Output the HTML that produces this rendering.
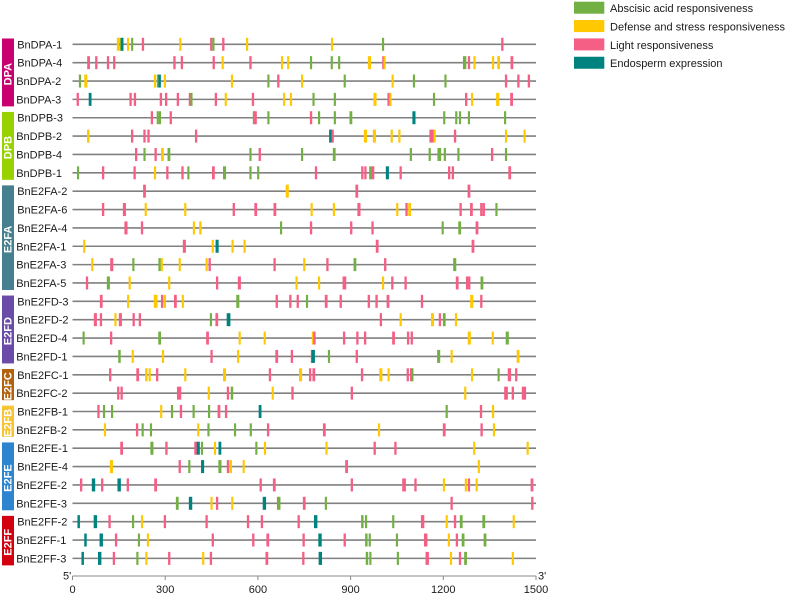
<!DOCTYPE html>
<html lang="en">
<head>
<meta charset="utf-8">
<title>Cis-element motifs along BnE2F promoters</title>
<style>
html,body{margin:0;padding:0;background:#fff;width:787px;height:595px;overflow:hidden}
svg{display:block}
text{font-family:"Liberation Sans",Arial,sans-serif;fill:#1a1a1a}
</style>
</head>
<body>
<svg id="chart" xmlns="http://www.w3.org/2000/svg" width="787" height="595" viewBox="0 0 787 595"></svg>
<script>
const genes = ["BnDPA-1","BnDPA-4","BnDPA-2","BnDPA-3","BnDPB-3","BnDPB-2","BnDPB-4","BnDPB-1","BnE2FA-2","BnE2FA-6","BnE2FA-4","BnE2FA-1","BnE2FA-3","BnE2FA-5","BnE2FD-3","BnE2FD-2","BnE2FD-4","BnE2FD-1","BnE2FC-1","BnE2FC-2","BnE2FB-1","BnE2FB-2","BnE2FE-1","BnE2FE-4","BnE2FE-2","BnE2FE-3","BnE2FF-2","BnE2FF-1","BnE2FF-3"];
const groupNames = ["DPA","DPB","E2FA","E2FD","E2FC","E2FB","E2FE","E2FF"];
const groupSizes = [4,4,6,4,2,2,4,3];
const legendLabels = ["Abscisic acid responsiveness","Defense and stress responsiveness","Light responsiveness","Endosperm expression"];
const axisTicks = [0,300,600,900,1200,1500];
const axisEnds = ["5'","3'"];
const sequenceLength = 1500;

/* Each motif: [category, centre position in bp, optional length in bp].
   Categories: A abscisic acid, D defense/stress, L light, E endosperm. */
const motifsDPA1 = [["D",147],["A",156,8],["E",161,8],["D",180],["A",193],["L",228],["D",349],["L",449],["A",456],["L",488],["D",565],["D",840],["A",1005],["L",1391]];
const motifsDPA4 = [["L",52,9],["L",77],["L",115],["L",135],["L",330],["L",354],["L",457],["D",486],["L",576],["D",678],["D",698],["A",772],["A",839],["A",863],["D",961,10],["L",1006],["D",1010],["A",1269,11],["L",1283],["D",1301],["D",1361],["D",1379,9],["L",1422,9]];
const motifsDPA2 = [["A",24],["D",43,10],["D",267],["A",277,8],["E",282,8],["D",299],["D",516],["A",634],["L",666],["D",743],["A",881],["D",1036],["A",1105],["A",1207],["L",1403],["L",1443],["L",1477]];
const motifsDPA3 = [["L",17],["E",57],["L",188],["L",202],["L",286],["L",303],["L",341],["L",380],["A",385],["L",464],["D",496],["L",584],["D",685],["D",707],["A",780],["A",849],["D",979,10],["L",1023],["D",1029],["A",1170],["L",1274],["D",1293],["D",1376,10],["L",1421,9]];
const motifsDPB3 = [["L",257],["A",276],["A",283],["L",318],["A",587],["L",592,9],["A",634],["L",772],["A",798],["A",849],["A",901,9],["E",1105,10],["A",1203],["A",1242],["A",1254],["A",1283],["A",1400]];
const motifsDPB2 = [["D",51,8],["L",193],["L",233],["L",246],["L",400],["E",835],["L",842],["D",948,10],["D",977,10],["D",1033],["D",1058],["L",1162,14],["D",1172],["L",1238],["D",1403],["D",1463]];
const motifsDPB4 = [["L",206],["A",233],["L",269],["D",291,9],["A",312,9],["A",576],["L",606],["A",743],["A",847,9],["A",1095],["A",1156],["A",1187,12],["A",1205],["A",1249],["L",1358],["A",1403]];
const motifsDPB1 = [["A",18],["L",99],["L",201],["D",267],["L",307],["L",356],["A",375],["L",456,9],["A",492,10],["A",576],["A",601],["L",788],["L",938],["L",948],["A",965,10],["L",973],["E",1019,10],["L",1062],["L",1219],["L",1231],["L",1415,9]];
const motifsE2FA2 = [["L",233,9],["D",695,10],["L",920,9],["L",1283,9]];
const motifsE2FA6 = [["L",99],["L",168,10],["D",237],["D",365],["L",522],["L",593,9],["L",655,9],["D",774],["D",846],["L",927,10],["D",1051],["L",1081],["D",1091,9],["L",1256],["L",1291,9],["L",1323],["L",1331],["A",1372]];
const motifsE2FA4 = [["L",173,10],["L",225],["D",393],["D",414,8],["A",675],["L",772],["L",902],["L",971],["A",1198],["A",1253,9],["L",1309,9]];
const motifsE2FA1 = [["D",38],["L",362,10],["D",454],["E",468,10],["D",518],["D",557],["L",986,9],["L",1296,9]];
const motifsE2FA3 = [["D",64],["L",127,10],["A",197],["A",282,8],["D",289],["D",347],["D",434],["L",444],["L",654],["D",750],["L",825],["A",914,9],["L",1012],["A",1237,10]];
const motifsE2FA5 = [["L",47],["A",116,10],["D",185],["D",313],["L",468],["L",540,10],["D",725],["D",798],["L",880,12],["D",1005],["L",1035],["L",1078],["L",1245,9],["L",1277],["L",1284],["A",1325,9]];
const motifsE2FD3 = [["L",93,9],["D",180],["D",269,12],["L",290],["D",299],["L",333,9],["D",357],["A",535,10],["L",661],["L",705],["L",729],["A",759],["L",821,9],["L",868],["L",959],["L",984],["L",1021,9],["L",1131],["D",1292,10],["L",1323]];
const motifsE2FD2 = [["L",74,10],["L",92],["D",139],["L",155,10],["L",198],["L",218],["A",448],["L",467,9],["E",505,12],["L",998],["D",1062],["D",1165,10],["L",1189],["A",1203,9],["D",1241]];
const motifsE2FD4 = [["A",36],["L",125],["A",282,9],["L",437,9],["D",541],["D",622],["D",778],["L",783],["L",879],["L",922],["L",947],["L",1039,9],["L",1086],["L",1098],["D",1284,10],["D",1360],["A",1407,10]];
const motifsE2FD1 = [["A",152,8],["D",195],["D",293],["L",450],["D",536],["L",661,9],["L",710],["L",775],["E",779,11],["A",830],["L",920],["A",1185,10],["D",1227],["D",1442,9]];
const motifsE2FC1 = [["L",122],["L",211,9],["D",239,8],["D",250],["L",274],["D",365],["D",492,10],["L",639],["D",738,10],["L",769],["L",781,9],["L",937],["D",998,10],["D",1023],["L",1085],["L",1096],["A",1100],["D",1293],["A",1379],["L",1414,11],["L",1436]];
const motifsE2FC2 = [["L",148],["L",159],["L",345,14],["D",441],["L",503],["A",516,8],["D",648],["L",712],["L",904],["D",1271],["L",1403,12],["L",1425],["L",1461,14]];
const motifsE2FB1 = [["L",84],["A",102],["A",128],["D",287],["A",322],["L",351],["A",392],["A",442],["L",474,9],["L",497],["E",607],["A",1211],["L",1322],["D",1361]];
const motifsE2FB2 = [["D",105],["L",209],["A",227],["A",254],["D",407],["A",440],["A",526],["A",577],["L",633],["L",815,9],["D",992],["L",1203,9],["L",1324],["D",1364]];
const motifsE2FE1 = [["L",159,9],["A",257,10],["L",304],["L",399,10],["E",407,10],["A",419],["D",461],["E",477],["A",595],["D",623],["D",822],["L",978],["L",1045],["D",1300],["D",1473]];
const motifsE2FE4 = [["D",126,10],["L",347],["A",378],["E",421,10],["A",477,10],["L",503],["D",512,8],["D",554],["L",887,9],["D",1315]];
const motifsE2FE2 = [["L",28],["E",68,11],["L",96],["E",151,11],["L",179],["L",269,9],["L",609],["L",653,9],["L",904],["L",1073,12],["L",1110],["D",1202],["D",1273],["L",1283],["D",1308],["L",1487,9]];
const motifsE2FE3 = [["A",339,9],["E",382,11],["D",450],["L",468],["D",517],["E",621,11],["L",665,7],["A",669,8],["L",750,9],["A",820],["L",1227],["L",1488]];
const motifsE2FF2 = [["E",20,8],["E",74,11],["L",120],["A",196],["D",225],["L",299],["L",434],["L",568],["L",613],["L",732],["E",787,11],["A",938,8],["A",950],["A",1038],["L",1133,11],["D",1211],["L",1238],["A",1258,9],["A",1331,9],["D",1428]];
const motifsE2FF1 = [["E",42,8],["E",93,11],["L",141],["A",215],["D",244],["L",454],["L",585],["L",632,9],["L",748],["E",801,11],["L",881],["A",951,8],["A",962],["A",1050],["L",1143,11],["D",1218],["L",1244],["A",1264,9],["A",1335,9]];
const motifsE2FF3 = [["E",33,8],["E",88,11],["L",134],["A",210],["D",239],["L",313],["D",423],["L",448],["L",629,9],["L",747],["E",802,11],["A",953,8],["A",964],["A",1053],["L",1148,11],["D",1225],["L",1254],["A",1272,9],["D",1425]];

const geneMotifs = [motifsDPA1,motifsDPA4,motifsDPA2,motifsDPA3,motifsDPB3,motifsDPB2,motifsDPB4,motifsDPB1,motifsE2FA2,motifsE2FA6,motifsE2FA4,motifsE2FA1,motifsE2FA3,motifsE2FA5,motifsE2FD3,motifsE2FD2,motifsE2FD4,motifsE2FD1,motifsE2FC1,motifsE2FC2,motifsE2FB1,motifsE2FB2,motifsE2FE1,motifsE2FE4,motifsE2FE2,motifsE2FE3,motifsE2FF2,motifsE2FF1,motifsE2FF3];

const NS = "http://www.w3.org/2000/svg";
const svg = document.getElementById("chart");
const typeColor = {A:"#72b043",D:"#ffc800",L:"#f55f86",E:"#00837f"};
const legendColors = [typeColor.A,typeColor.D,typeColor.L,typeColor.E];
const typeSlug = {A:"abscisic-acid",D:"defense-stress",L:"light",E:"endosperm"};
const groupColors = ["#c9006f","#98d300","#467f8e","#6a4ca8","#b3610c","#f6c431","#2d85cf","#d3000f"];
const defaultLen = {A:7,D:7,L:7.5,E:9};
const shiftedLabels = new Set(["BnDPA-2","BnDPA-3","BnDPB-2","BnDPB-4","BnDPB-1","BnE2FA-1","BnE2FA-3","BnE2FA-5","BnE2FD-4","BnE2FD-1","BnE2FC-2","BnE2FB-2","BnE2FE-2","BnE2FE-3","BnE2FF-1","BnE2FF-3"]);

const X0 = 72.5, X1 = 536;
const xScale = v => X0 + (v / sequenceLength) * (X1 - X0);
const ROW0 = 44.3, ROWSTEP = 18.36;
const yScale = i => ROW0 + i * ROWSTEP;

function make(tag, attrs, parent) {
  const el = document.createElementNS(NS, tag);
  for (const k in attrs) el.setAttribute(k, attrs[k]);
  parent.appendChild(el);
  return el;
}

/* legend */
legendLabels.forEach((label, i) => {
  const y = 1.7 + i * 18.35;
  const swatch = make("rect", {x:574, y:y, width:30.3, height:12, fill:legendColors[i]}, svg);
  
  
  const t = make("text", {x:610, y:y + 10.4, "font-size":11}, svg);
  if (label.length > 30) t.setAttribute("textLength", 175);
  t.textContent = label;
  
  
});

/* group side bars */
let startRow = 0;
groupNames.forEach((name, i) => {
  const endRow = startRow + groupSizes[i] - 1;
  const top = yScale(startRow) - 5.8;
  const bottom = yScale(endRow) + 7.8;
  const bar = make("rect", {x:2, y:top, width:12, height:bottom - top - 0.8, fill:groupColors[i]}, svg);
  
  
  const cy = (top + bottom) / 2 + 1.3;
  const label = make("text", {x:8.6, y:cy, "font-size":11, "font-weight":"700", "text-anchor":"middle", "dominant-baseline":"central", transform:"rotate(-90 8.6 " + cy + ")", style:"fill:#fff"}, svg);
  label.textContent = name;
  
  
  startRow = endRow + 1;
});

/* gene rows */
genes.forEach((gene, i) => {
  const y = yScale(i);
  const label = make("text", {x:shiftedLabels.has(gene) ? 16.2 : 17.2, y:y + 4, "font-size":11}, svg);
  label.textContent = gene;
  
  
  const line = make("line", {x1:X0, x2:X1, y1:y, y2:y, stroke:"#808080", "stroke-width":1.6}, svg);
  
  
  geneMotifs[i].forEach(m => {
    const type = m[0], centre = m[1], len = m[2] || defaultLen[type];
    const x = xScale(centre - len / 2);
    const w = xScale(centre + len / 2) - x;
    const mark = make("rect", {x:x, y:y - 6.5, width:w, height:13, fill:typeColor[type]}, svg);
    
    
  });
});

/* axis */
const AXIS_Y = 576;
const axisLine = make("line", {x1:X0, x2:X1, y1:AXIS_Y, y2:AXIS_Y, stroke:"#8a8a8a", "stroke-width":1}, svg);


axisTicks.forEach(v => {
  const x = xScale(v);
  const tick = make("line", {x1:x, x2:x, y1:AXIS_Y, y2:AXIS_Y + 4, stroke:"#8a8a8a", "stroke-width":1}, svg);
  
  
  const t = make("text", {x:x, y:593, "font-size":11, "text-anchor":"middle"}, svg);
  t.textContent = v;
  
  
});
const endLeft = make("text", {x:63, y:579.5, "font-size":11}, svg);
endLeft.textContent = axisEnds[0];


const endRight = make("text", {x:538, y:579.5, "font-size":11}, svg);
endRight.textContent = axisEnds[1];


</script>
</body>
</html>
